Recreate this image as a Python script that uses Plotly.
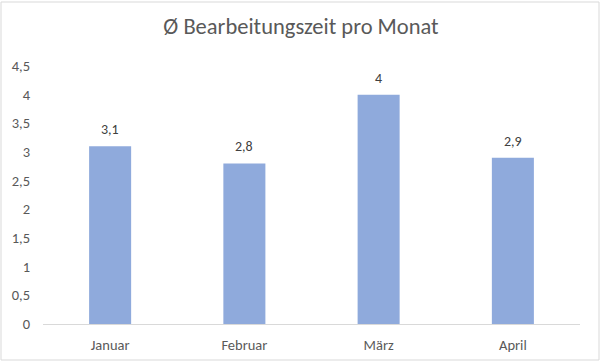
import plotly.graph_objects as go

months = ["Januar", "Februar", "März", "April"]
values = [3.1, 2.8, 4, 2.9]
y_ticks = [0, 0.5, 1, 1.5, 2, 2.5, 3, 3.5, 4, 4.5]

L, R, T, B = 43, 22, 66, 39
W, H = 602, 363
pw, ph = W - L - R, H - T - B
FONT = "Carlito, Calibri, Liberation Sans"

def px(x):
    return (x - L) / pw

def py(y):
    return (H - B - y) / ph

fig = go.Figure(go.Bar(
    x=months, y=values,
    marker=dict(color="#8FAADC", line=dict(width=0)),
))

for m, v in zip(months, values):
    fig.add_annotation(x=m, y=v, text=f"{v:g}".replace(".", ","), showarrow=False,
                       yanchor="bottom", yshift=6,
                       font=dict(size=14, color="#404040", family=FONT))

fig.update_layout(
    width=W, height=H,
    margin=dict(l=L, r=R, t=T, b=B, pad=0, autoexpand=False),
    separators=",.",
    paper_bgcolor="white", plot_bgcolor="white",
    bargap=0.687,
    showlegend=False,
    title=dict(text="Ø Bearbeitungszeit pro Monat", x=0.5, xanchor="center",
               y=1 - 26 / H, yanchor="middle", automargin=False,
               font=dict(size=22.5, color="#595959", family=FONT)),
    font=dict(family=FONT, size=14, color="#595959"),
    xaxis=dict(showgrid=False, showline=True, linecolor="#D9D9D9", linewidth=1,
               ticks="", ticklabelstandoff=8, automargin=False,
               tickfont=dict(size=14.5, color="#595959")),
    yaxis=dict(range=[0, 4.5], tickvals=y_ticks, showgrid=False, zeroline=False,
               showline=False, ticks="", ticklabelstandoff=12, automargin=False,
               tickfont=dict(size=14.5, color="#595959")),
    shapes=[dict(type="rect", xref="paper", yref="paper",
                 x0=px(1), x1=px(599), y0=py(360), y1=py(2),
                 line=dict(color="#D9D9D9", width=1), layer="below")],
)

fig.write_html("out.html", config={"displayModeBar": False},
               post_script="document.body.style.margin='0';")
